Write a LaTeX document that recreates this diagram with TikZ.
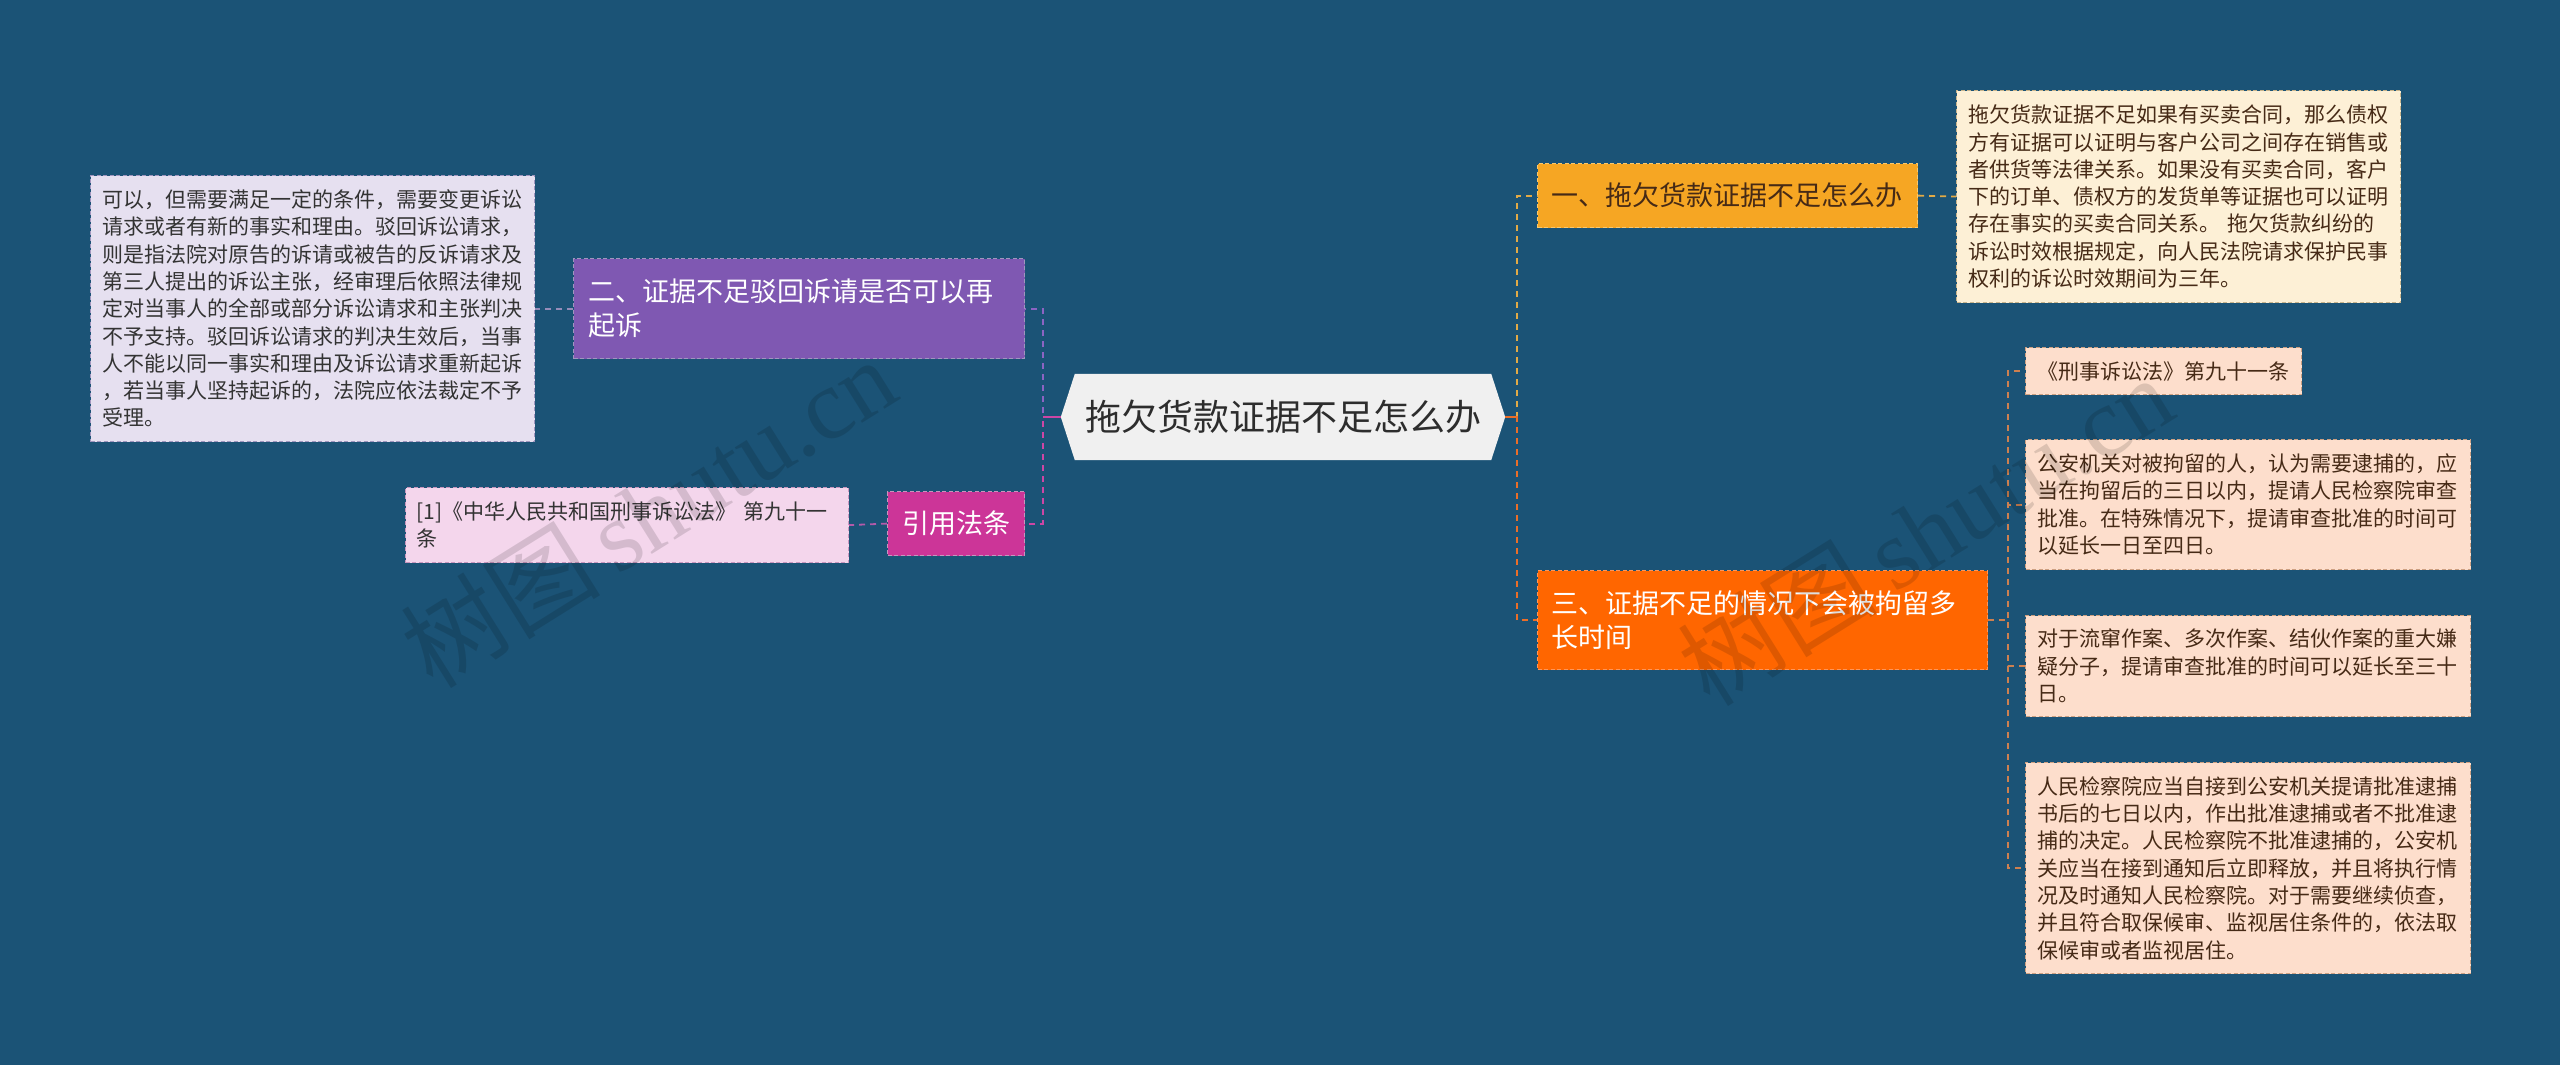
\documentclass[tikz,border=0pt]{standalone}
\usepackage{fontspec}
\newfontfamily\cjk{Noto Sans CJK SC}
\newfontfamily\wmserif{Liberation Serif}
\usetikzlibrary{backgrounds,calc}

\definecolor{bgblue}{RGB}{27,83,118}
\definecolor{centerfill}{RGB}{240,240,240}
\definecolor{centertext}{RGB}{45,45,45}
\definecolor{purplefill}{RGB}{127,88,178}
\definecolor{purpleline}{RGB}{140,100,195}
\definecolor{lavfill}{RGB}{230,224,240}
\definecolor{lavborder}{RGB}{160,150,190}
\definecolor{lavline}{RGB}{150,140,185}
\definecolor{magfill}{RGB}{204,53,152}
\definecolor{magline}{RGB}{205,70,165}
\definecolor{pinkfill}{RGB}{244,214,236}
\definecolor{pinkborder}{RGB}{200,150,190}
\definecolor{pinkline}{RGB}{180,90,170}
\definecolor{goldfill}{RGB}{246,166,35}
\definecolor{goldborder}{RGB}{250,200,110}
\definecolor{goldline}{RGB}{226,170,70}
\definecolor{creamfill}{RGB}{253,240,214}
\definecolor{creamborder}{RGB}{200,180,140}
\definecolor{orangefill}{RGB}{255,102,0}
\definecolor{orangeborder}{RGB}{255,150,90}
\definecolor{orangeline}{RGB}{235,110,40}
\definecolor{peachfill}{RGB}{253,222,204}
\definecolor{peachborder}{RGB}{205,160,130}
\definecolor{brownline}{RGB}{205,128,80}
\definecolor{darktext}{RGB}{51,51,51}
\definecolor{browntext}{RGB}{70,42,22}

\tikzset{
  boxbase/.style={rectangle, anchor=north west, inner ysep=0pt, align=left,
    line width=1.2pt, dash pattern=on 4pt off 2.5pt},
  leafbox/.style={boxbase, inner xsep=12pt, font=\cjk\fontsize{21}{27.3}\selectfont},
  branchbox/.style={boxbase, inner xsep=15pt, font=\cjk\fontsize{27}{34}\selectfont},
  link/.style={line width=1.8pt, dash pattern=on 6pt off 5pt},
  stub/.style={line width=2.2pt},
  watermark/.style={rotate=32, opacity=0.13, text=black, inner sep=0pt,
    font=\cjk\fontsize{100}{110}\selectfont}
}

\begin{document}
\begin{tikzpicture}[x=1pt,y=-1pt]
\useasboundingbox (0,0) rectangle (2560,1065);
\begin{scope}[on background layer]
  \fill[bgblue] (0,0) rectangle (2560,1065);
\end{scope}

% central topic
\node[font=\cjk\fontsize{36}{40}\selectfont, text=centertext, minimum width=444pt,
      minimum height=86pt, inner sep=0pt] (cc) at (1283,417) {拖欠货款证据不足怎么办};
\begin{scope}[on background layer]
  \fill[centerfill] (cc.west) -- ($(cc.north west)+(14,0)$) -- ($(cc.north east)+(-14,0)$)
     -- (cc.east) -- ($(cc.south east)+(-14,0)$) -- ($(cc.south west)+(14,0)$) -- cycle;
\end{scope}

% left branches
\node[branchbox, fill=purplefill, draw=lavborder, text=white, text width=421pt,
      minimum height=100pt] (b2) at (573,258)
  {二、证据不足驳回诉请是否可以再\\起诉};
\node[leafbox, fill=lavfill, draw=lavborder, text=darktext, text width=420pt,
      minimum height=266pt] (l2) at (90,175)
  {可以，但需要满足一定的条件，需要变更诉讼\\
   请求或者有新的事实和理由。驳回诉讼请求，\\
   则是指法院对原告的诉请或被告的反诉请求及\\
   第三人提出的诉讼主张，经审理后依照法律规\\
   定对当事人的全部或部分诉讼请求和主张判决\\
   不予支持。驳回诉讼请求的判决生效后，当事\\
   人不能以同一事实和理由及诉讼请求重新起诉\\
   ，若当事人坚持起诉的，法院应依法裁定不予\\
   受理。};
\node[branchbox, fill=magfill, draw=pinkborder, text=white, align=center,
      inner xsep=0pt, minimum width=137pt, minimum height=64pt] (r) at (887,491)
  {引用法条};
\node[leafbox, fill=pinkfill, draw=pinkborder, text=darktext, inner xsep=11pt,
      text width=421pt, minimum height=75pt] (lr) at (405,487)
  {[1]《中华人民共和国刑事诉讼法》~第九十一\\条};

% right branches
\node[branchbox, fill=goldfill, draw=goldborder, text=browntext, inner xsep=14pt,
      text width=352pt, minimum height=64pt] (b1) at (1537,163)
  {一、拖欠货款证据不足怎么办};
\node[leafbox, fill=creamfill, draw=creamborder, text=browntext, text width=420pt,
      minimum height=212pt] (l1) at (1956,90)
  {拖欠货款证据不足如果有买卖合同，那么债权\\
   方有证据可以证明与客户公司之间存在销售或\\
   者供货等法律关系。如果没有买卖合同，客户\\
   下的订单、债权方的发货单等证据也可以证明\\
   存在事实的买卖合同关系。~拖欠货款纠纷的\\
   诉讼时效根据规定，向人民法院请求保护民事\\
   权利的诉讼时效期间为三年。};
\node[branchbox, fill=orangefill, draw=orangeborder, text=white, inner xsep=14pt,
      text width=422pt, minimum height=99pt] (b3) at (1537,570)
  {三、证据不足的情况下会被拘留多\\长时间};
\node[leafbox, fill=peachfill, draw=peachborder, text=browntext, text width=252pt,
      minimum height=47pt] (l3a) at (2025,347)
  {《刑事诉讼法》第九十一条};
\node[leafbox, fill=peachfill, draw=peachborder, text=browntext, text width=421pt,
      minimum height=130pt] (l3b) at (2025,439)
  {公安机关对被拘留的人，认为需要逮捕的，应\\
   当在拘留后的三日以内，提请人民检察院审查\\
   批准。在特殊情况下，提请审查批准的时间可\\
   以延长一日至四日。};
\node[leafbox, fill=peachfill, draw=peachborder, text=browntext, text width=421pt,
      minimum height=101pt] (l3c) at (2025,615)
  {对于流窜作案、多次作案、结伙作案的重大嫌\\
   疑分子，提请审查批准的时间可以延长至三十\\
   日。};
\node[leafbox, fill=peachfill, draw=peachborder, text=browntext, text width=421pt,
      minimum height=211pt] (l3d) at (2025,762)
  {人民检察院应当自接到公安机关提请批准逮捕\\
   书后的七日以内，作出批准逮捕或者不批准逮\\
   捕的决定。人民检察院不批准逮捕的，公安机\\
   关应当在接到通知后立即释放，并且将执行情\\
   况及时通知人民检察院。对于需要继续侦查，\\
   并且符合取保候审、监视居住条件的，依法取\\
   保候审或者监视居住。};

% connectors
\begin{scope}[on background layer]
  \draw[link, purpleline] (cc.west) -- ++(-18,0) |- (b2.east);
  \draw[link, magline] (cc.west) -- ++(-18,0) |- (r.east);
  \draw[link, goldline] (cc.east) -- ++(12,0) |- (b1.west);
  \draw[link, orangeline] (cc.east) -- ++(12,0) |- (b3.west);
  \draw[link, lavline] (b2.west) -- (l2.east);
  \draw[link, pinkline] (r.west) -- (lr.east);
  \draw[link, goldline] (b1.east) -- (l1.west);
  \draw[link, brownline] (b3.east) -- ++(20,0) |- (l3a.west);
  \draw[link, brownline] (b3.east) -- ++(20,0) |- (l3b.west);
  \draw[link, brownline] (b3.east) -- ++(20,0) |- (l3c.west);
  \draw[link, brownline] (b3.east) -- ++(20,0) |- (l3d.west);
\end{scope}
\draw[stub, magline] (cc.west) -- ++(-18,0);
\draw[stub, orangeline] (cc.east) -- ++(12,0);

% watermarks
\node[watermark] (wm1) at (648,512) {树图\,{\wmserif shutu.cn}};
\node[watermark] (wm2) at (1925,530) {树图\,{\wmserif shutu.cn}};
\end{tikzpicture}
\end{document}
